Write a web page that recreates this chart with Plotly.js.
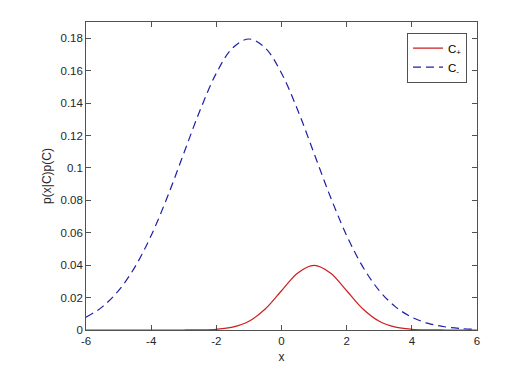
<!DOCTYPE html>
<html>
<head>
<meta charset="utf-8">
<script src="https://cdn.plot.ly/plotly-3.0.1.min.js"></script>
<style>html,body{margin:0;padding:0;background:#fff;}#chart{width:516px;height:371px;}</style>
</head>
<body>
<div id="chart"></div>
<script>
const xValues = [-6,-5.5,-5,-4.5,-4,-3.5,-3,-2.5,-2,-1.5,-1,-0.5,0,0.5,1,1.5,2,2.5,3,3.5,4,4.5,5,5.5,6];
const cPlus = [0,0,0,0,0,0,0.00001,0.00009,0.00044,0.00175,0.00540,0.01295,0.02420,0.03521,0.03989,0.03521,0.02420,0.01295,0.00540,0.00175,0.00044,0.00009,0.00001,0,0];
const cMinus = [0.00789,0.01428,0.02430,0.03882,0.05828,0.08219,0.10889,0.13551,0.15843,0.17400,0.17952,0.17400,0.15843,0.13551,0.10889,0.08219,0.05828,0.03882,0.02430,0.01428,0.00789,0.00409,0.00199,0.00091,0.00039];
const seriesNames = ['C<sub>+</sub>', 'C<sub>-</sub>'];
const xTicks = [-6,-4,-2,0,2,4,6];
const yTicks = [0,0.02,0.04,0.06,0.08,0.1,0.12,0.14,0.16,0.18];

const axisColor = '#262626';
const traces = [
  {x: xValues, y: cPlus, name: seriesNames[0], mode: 'lines',
   line: {color: '#cc1f1f', width: 1.2, shape: 'spline', smoothing: 1}},
  {x: xValues, y: cMinus, name: seriesNames[1], mode: 'lines',
   line: {color: '#1f1fa8', width: 1.2, dash: '8px,5px', shape: 'spline', smoothing: 1}}
];
const layout = {
  width: 516, height: 371,
  margin: {l: 86, r: 39, t: 22, b: 41},
  paper_bgcolor: '#fff', plot_bgcolor: '#fff',
  font: {family: 'Liberation Sans, Arial, sans-serif', size: 11.5, color: axisColor},
  showlegend: true,
  legend: {x: 0.975, y: 0.965, xanchor: 'right', yanchor: 'top',
    bgcolor: '#fff', bordercolor: axisColor, borderwidth: 0.8,
    itemwidth: 30,
    font: {size: 11.5, color: '#000'}, tracegroupgap: 0},
  xaxis: {range: [-6, 6], tickvals: xTicks, ticktext: xTicks.map(String),
    ticks: 'inside', ticklen: 5, tickcolor: axisColor, tickwidth: 0.8,
    showline: true, linecolor: axisColor, linewidth: 0.8, mirror: 'ticks',
    showgrid: false, zeroline: false,
    title: {text: 'x', font: {size: 12}, standoff: 6}},
  yaxis: {range: [0, 0.19], tickvals: yTicks, ticktext: yTicks.map(String),
    ticks: 'inside', ticklen: 5, tickcolor: axisColor, tickwidth: 0.8,
    showline: true, linecolor: axisColor, linewidth: 0.8, mirror: 'ticks',
    showgrid: false, zeroline: false,
    title: {text: 'p(x|C)p(C)', font: {size: 12}, standoff: 6}}
};
Plotly.newPlot('chart', traces, layout, {displayModeBar: false, staticPlot: true});
</script>
</body>
</html>
